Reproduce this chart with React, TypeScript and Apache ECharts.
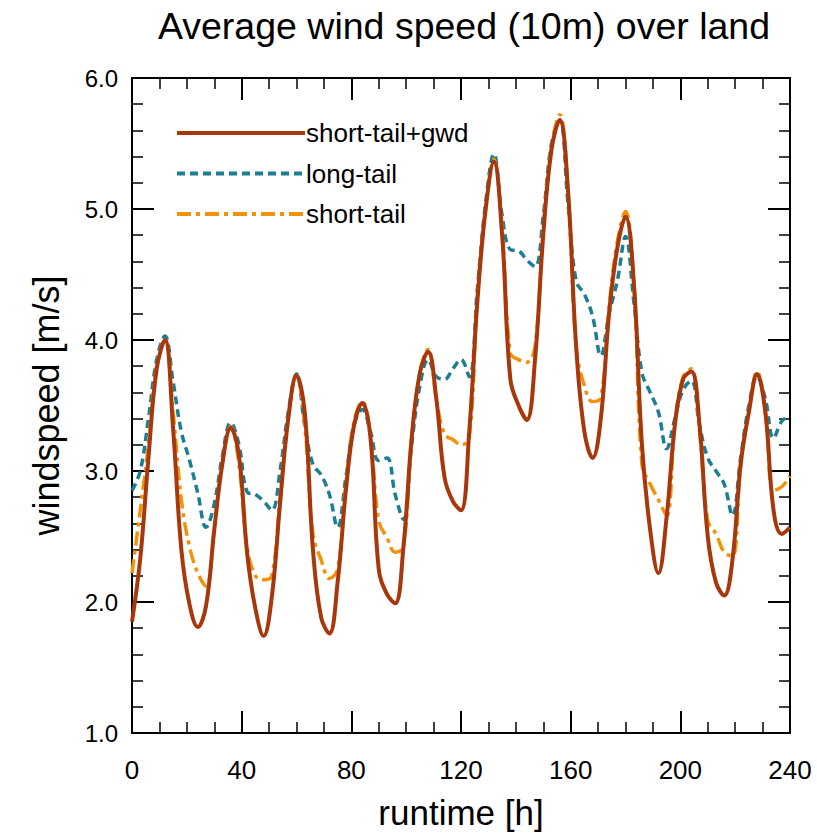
import React, { useEffect, useRef } from "react";
import * as echarts from "echarts";

const hours: number[] = [];
for (let h = 0; h <= 240; h += 3) hours.push(h);

const shortTailGwd = [
  1.85, 2.33, 3.1, 3.78, 4.0, 3.32, 2.4, 1.98, 1.81, 1.97, 2.55, 3.06, 3.33,
  3.12, 2.37, 1.95, 1.74, 2.04, 2.75, 3.4, 3.73, 3.45, 2.4, 1.88, 1.76, 2.15,
  2.85, 3.35, 3.52, 3.25, 2.25, 2.06, 1.99, 2.42, 3.25, 3.75, 3.91, 3.55, 2.95,
  2.77, 2.7, 3.3, 4.3, 5.0, 5.36, 4.8, 3.7, 3.5, 3.39, 3.85, 4.8, 5.45, 5.68,
  5.15, 3.95, 3.3, 3.1, 3.4, 4.2, 4.7, 4.94, 4.45, 3.2, 2.55, 2.22, 2.65, 3.35,
  3.7, 3.76, 3.35, 2.5, 2.15, 2.05, 2.32, 3.05, 3.45, 3.74, 3.45, 2.7, 2.52,
  2.57,
];

const longTail = [
  2.85, 3.0, 3.4, 3.85, 4.03, 3.68, 3.3, 3.08, 2.83, 2.57, 2.75, 3.12, 3.37,
  3.2, 2.84, 2.82, 2.77, 2.7, 3.0, 3.45, 3.74, 3.35, 3.05, 2.97, 2.82, 2.57,
  2.95, 3.35, 3.47, 3.3, 3.08, 3.1, 2.82, 2.63, 3.2, 3.65, 3.85, 3.72, 3.7,
  3.78, 3.85, 3.72, 4.4, 5.05, 5.42, 4.95, 4.69, 4.68, 4.61, 4.56, 4.95, 5.5,
  5.68, 5.05, 4.45, 4.35, 4.18, 3.88, 4.2, 4.45, 4.79, 4.3, 3.75, 3.6, 3.45,
  3.17, 3.4, 3.62, 3.69, 3.35, 3.1, 3.0, 2.9, 2.66, 3.1, 3.5, 3.72, 3.55, 3.25,
  3.38, 3.42,
];

const shortTail = [
  2.22, 2.7, 3.2, 3.8, 4.0, 3.45, 2.78, 2.42, 2.22, 2.12, 2.55, 3.08, 3.34,
  3.05, 2.42, 2.2, 2.17, 2.2, 2.8, 3.4, 3.73, 3.35, 2.52, 2.32, 2.18, 2.25,
  2.9, 3.38, 3.53, 3.25, 2.62, 2.49, 2.38, 2.42, 3.25, 3.75, 3.93, 3.55, 3.28,
  3.24, 3.2, 3.25, 4.35, 5.0, 5.38, 4.85, 3.9, 3.85, 3.83, 3.95, 4.85, 5.48,
  5.72, 5.15, 3.95, 3.65, 3.53, 3.56, 4.25, 4.75, 4.98, 4.45, 3.05, 2.9, 2.78,
  2.66, 3.35, 3.72, 3.78, 3.3, 2.62, 2.52, 2.38, 2.35, 3.05, 3.45, 3.76, 3.45,
  2.85, 2.88, 2.96,
];

const seriesNames = ["short-tail+gwd", "long-tail", "short-tail"];
const titleText = "Average wind speed (10m) over land";
const xName = "runtime [h]";
const yName = "windspeed [m/s]";

const FONT = "'Liberation Sans', Arial, Helvetica, sans-serif";

function pairs(vals: number[]) {
  return hours.map((h, i) => [h, vals[i]]);
}

export default function App() {
  const ref = useRef<HTMLDivElement>(null);
  useEffect(() => {
    if (!ref.current) return;
    const chart = echarts.init(ref.current, undefined, { renderer: "svg" });
    const axisLine = { show: true, onZero: false, lineStyle: { color: "#000", width: 2 } };
    const tick = { show: true, inside: true, length: 22, lineStyle: { color: "#000", width: 2 } };
    const minorX = { show: true, splitNumber: 4, length: 11, lineStyle: { color: "#000", width: 1.5 } };
    const minorY = { show: true, splitNumber: 5, length: 11, lineStyle: { color: "#000", width: 1.5 } };
    const xBase = {
      type: "value" as const,
      min: 0,
      max: 240,
      interval: 40,
      axisLine,
      axisTick: tick,
      minorTick: minorX,
      splitLine: { show: false },
      minorSplitLine: { show: false },
    };
    const yBase = {
      type: "value" as const,
      min: 1,
      max: 6,
      interval: 1,
      axisLine,
      axisTick: tick,
      minorTick: minorY,
      splitLine: { show: false },
      minorSplitLine: { show: false },
    };
    chart.setOption({
      animation: false,
      backgroundColor: "#fff",
      title: {
        text: titleText,
        left: 459,
        top: 2,
        textAlign: "center",
        textStyle: { fontFamily: FONT, fontSize: 37.5, fontWeight: "normal", color: "#000" },
      },
      legend: {
        orient: "vertical",
        left: 170,
        top: 115,
        itemWidth: 128,
        itemHeight: 22,
        itemGap: 14.5,
        data: seriesNames,
        itemStyle: { opacity: 0 },
        lineStyle: { width: 4 },
        textStyle: { fontFamily: FONT, fontSize: 26, color: "#000", padding: [0, 0, 0, -4] },
      },
      grid: { left: 132, right: 27, top: 78, bottom: 104, containLabel: false },
      xAxis: [
        {
          ...xBase,
          position: "bottom",
          name: xName,
          nameLocation: "middle",
          nameGap: 62,
          nameTextStyle: { fontFamily: FONT, fontSize: 35, color: "#000" },
          axisLabel: { show: true, margin: 24, fontFamily: FONT, fontSize: 26, color: "#000" },
        },
        { ...xBase, position: "top", axisLabel: { show: false } },
      ],
      yAxis: [
        {
          ...yBase,
          position: "left",
          name: yName,
          nameLocation: "middle",
          nameGap: 68,
          nameRotate: 90,
          nameTextStyle: { fontFamily: FONT, fontSize: 36, color: "#000" },
          axisLabel: {
            show: true,
            margin: 14,
            fontFamily: FONT,
            fontSize: 24,
            color: "#000",
            formatter: (v: number) => v.toFixed(1),
          },
        },
        { ...yBase, position: "right", axisLabel: { show: false } },
      ],
      series: [
        {
          name: seriesNames[1],
          type: "line",
          data: pairs(longTail),
          symbol: "none",
          smooth: 0.4,
          lineStyle: { color: "#1B7E92", width: 3.5, type: [8, 5] },
          itemStyle: { color: "#1B7E92" },
          z: 2,
        },
        {
          name: seriesNames[2],
          type: "line",
          data: pairs(shortTail),
          symbol: "none",
          smooth: 0.4,
          lineStyle: { color: "#F0920A", width: 3.5, type: [14, 5, 4, 5] },
          itemStyle: { color: "#F0920A" },
          z: 3,
        },
        {
          name: seriesNames[0],
          type: "line",
          data: pairs(shortTailGwd),
          symbol: "none",
          smooth: 0.4,
          lineStyle: { color: "#A8380C", width: 4 },
          itemStyle: { color: "#A8380C" },
          z: 4,
        },
      ],
    });
    return () => chart.dispose();
  }, []);
  return (
    <div
      ref={ref}
      style={{ position: "absolute", left: 0, top: 0, width: 817, height: 837, background: "#fff" }}
    />
  );
}
